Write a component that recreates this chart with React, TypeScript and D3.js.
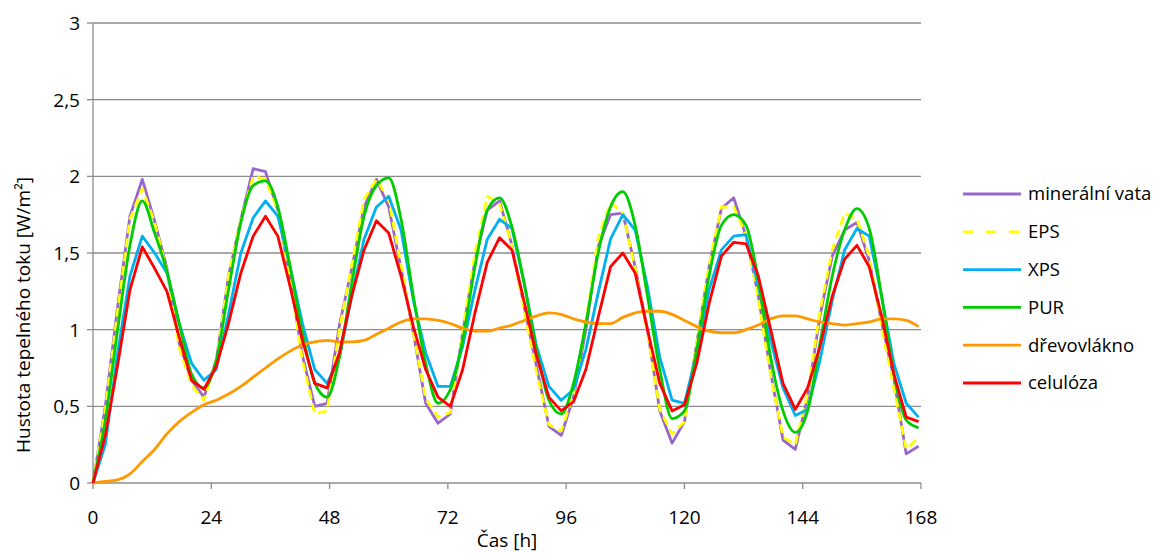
import React from "react";
import * as d3 from "d3";

const hours = [0, 2.5, 5, 7.5, 10, 12.5, 15, 17.5, 20, 22.5, 25, 27.5, 30, 32.5, 35, 37.5, 40, 42.5, 45, 47.5, 50, 52.5, 55, 57.5, 60, 62.5, 65, 67.5, 70, 72.5, 75, 77.5, 80, 82.5, 85, 87.5, 90, 92.5, 95, 97.5, 100, 102.5, 105, 107.5, 110, 112.5, 115, 117.5, 120, 122.5, 125, 127.5, 130, 132.5, 135, 137.5, 140, 142.5, 145, 147.5, 150, 152.5, 155, 157.5, 160, 162.5, 165, 167.5];

const mineralniVata = [0, 0.50, 1.15, 1.74, 1.98, 1.71, 1.40, 0.91, 0.67, 0.56, 0.80, 1.35, 1.72, 2.05, 2.03, 1.78, 1.33, 0.83, 0.50, 0.52, 1.03, 1.40, 1.80, 1.98, 1.80, 1.40, 0.98, 0.52, 0.39, 0.45, 0.98, 1.45, 1.78, 1.84, 1.55, 1.15, 0.76, 0.37, 0.31, 0.56, 1.00, 1.54, 1.75, 1.76, 1.41, 1.00, 0.47, 0.26, 0.40, 0.91, 1.41, 1.79, 1.86, 1.61, 1.22, 0.72, 0.28, 0.22, 0.56, 1.09, 1.48, 1.65, 1.70, 1.45, 1.05, 0.68, 0.19, 0.24];
const eps = [0, 0.48, 1.12, 1.72, 1.92, 1.70, 1.38, 0.88, 0.64, 0.54, 0.80, 1.35, 1.72, 2.00, 1.98, 1.78, 1.33, 0.80, 0.45, 0.47, 1.00, 1.42, 1.85, 1.98, 1.85, 1.42, 0.98, 0.55, 0.43, 0.46, 0.98, 1.50, 1.87, 1.82, 1.55, 1.12, 0.72, 0.38, 0.34, 0.58, 1.05, 1.60, 1.83, 1.76, 1.40, 0.98, 0.48, 0.32, 0.40, 0.92, 1.42, 1.80, 1.80, 1.62, 1.20, 0.70, 0.30, 0.25, 0.58, 1.12, 1.52, 1.76, 1.72, 1.48, 1.02, 0.62, 0.22, 0.30];
const xps = [0, 0.25, 0.85, 1.35, 1.61, 1.50, 1.37, 1.04, 0.78, 0.67, 0.74, 1.10, 1.50, 1.73, 1.84, 1.74, 1.41, 1.04, 0.74, 0.65, 0.82, 1.22, 1.59, 1.80, 1.87, 1.65, 1.19, 0.85, 0.63, 0.63, 0.89, 1.26, 1.59, 1.72, 1.66, 1.30, 0.89, 0.63, 0.54, 0.61, 0.87, 1.24, 1.59, 1.75, 1.65, 1.28, 0.82, 0.54, 0.52, 0.85, 1.26, 1.52, 1.61, 1.62, 1.28, 0.93, 0.62, 0.44, 0.48, 0.80, 1.19, 1.52, 1.66, 1.61, 1.22, 0.78, 0.52, 0.43];
const pur = [0, 0.41, 1.00, 1.55, 1.84, 1.63, 1.38, 1.04, 0.71, 0.62, 0.80, 1.26, 1.70, 1.94, 1.97, 1.80, 1.41, 0.98, 0.65, 0.56, 0.82, 1.30, 1.74, 1.94, 1.99, 1.72, 1.22, 0.78, 0.52, 0.61, 0.93, 1.41, 1.78, 1.86, 1.67, 1.30, 0.87, 0.54, 0.45, 0.65, 1.04, 1.50, 1.80, 1.90, 1.68, 1.22, 0.74, 0.42, 0.47, 0.87, 1.35, 1.68, 1.75, 1.68, 1.32, 0.82, 0.47, 0.33, 0.47, 0.91, 1.35, 1.65, 1.79, 1.66, 1.22, 0.71, 0.41, 0.36];
const drevovlakno = [0, 0.01, 0.02, 0.06, 0.14, 0.22, 0.32, 0.40, 0.46, 0.51, 0.54, 0.58, 0.63, 0.69, 0.75, 0.81, 0.86, 0.90, 0.92, 0.93, 0.92, 0.92, 0.93, 0.97, 1.01, 1.05, 1.07, 1.07, 1.06, 1.04, 1.01, 0.99, 0.99, 1.01, 1.03, 1.06, 1.09, 1.11, 1.10, 1.07, 1.05, 1.04, 1.04, 1.08, 1.11, 1.12, 1.12, 1.10, 1.06, 1.02, 0.99, 0.98, 0.98, 1.00, 1.03, 1.07, 1.09, 1.09, 1.07, 1.05, 1.04, 1.03, 1.04, 1.05, 1.07, 1.07, 1.06, 1.02];
const celuloza = [0, 0.31, 0.77, 1.26, 1.54, 1.40, 1.25, 0.95, 0.67, 0.61, 0.76, 1.04, 1.37, 1.61, 1.74, 1.61, 1.28, 0.93, 0.65, 0.62, 0.85, 1.22, 1.52, 1.71, 1.63, 1.35, 1.02, 0.74, 0.56, 0.50, 0.74, 1.11, 1.44, 1.60, 1.52, 1.18, 0.83, 0.56, 0.47, 0.53, 0.74, 1.08, 1.41, 1.50, 1.37, 1.00, 0.65, 0.47, 0.51, 0.78, 1.17, 1.48, 1.57, 1.56, 1.35, 1.00, 0.65, 0.48, 0.62, 0.89, 1.22, 1.46, 1.55, 1.41, 1.09, 0.71, 0.43, 0.40];

const seriesNames = ["minerální vata", "EPS", "XPS", "PUR", "dřevovlákno", "celulóza"];
const seriesValues = [mineralniVata, eps, xps, pur, drevovlakno, celuloza];
const seriesColors = ["#9966cc", "#ffff00", "#00b0f0", "#00cc00", "#ff9900", "#ff0000"];
const seriesDash = [null, "9,5", null, null, null, null];
const seriesSmooth = [false, false, false, true, true, false];

const xTicks = [0, 24, 48, 72, 96, 120, 144, 168];
const yTicks = [0, 0.5, 1, 1.5, 2, 2.5, 3];
const yTickLabels = ["0", "0,5", "1", "1,5", "2", "2,5", "3"];

const FONT = "'Open Sans', 'Noto Sans', sans-serif";

export default function App() {
  const x = d3.scaleLinear().domain([0, 168]).range([93, 921]);
  const y = d3.scaleLinear().domain([0, 3]).range([483, 23]);

  return (
    <svg
      width={1155}
      height={554}
      style={{ position: "absolute", left: 0, top: 0, background: "#fff" }}
      fontFamily={FONT}
    >
      <rect x={0} y={0} width={1155} height={554} fill="#fff" />
      {yTicks.filter((t) => t > 0).map((t) => (
        <line key={"g" + t} x1={x(0)} x2={x(168)} y1={y(t)} y2={y(t)} stroke="#8c8c8c" strokeWidth={1.3} />
      ))}
      <line x1={x(0)} x2={x(0)} y1={y(0)} y2={y(3)} stroke="#8c8c8c" strokeWidth={1.3} />
      <line x1={x(0)} x2={x(168)} y1={y(0)} y2={y(0)} stroke="#8c8c8c" strokeWidth={1.3} />
      {yTicks.map((t, i) => (
        <g key={"yt" + t}>
          <line x1={x(0) - 6} x2={x(0)} y1={y(t)} y2={y(t)} stroke="#8c8c8c" strokeWidth={1.3} />
          <text x={80} y={y(t)} dy="0.36em" textAnchor="end" fontSize={19} fill="#000">
            {yTickLabels[i]}
          </text>
        </g>
      ))}
      {xTicks.map((t) => (
        <g key={"xt" + t}>
          <line x1={x(t)} x2={x(t)} y1={y(0)} y2={y(0) + 6} stroke="#8c8c8c" strokeWidth={1.3} />
          <text x={x(t)} y={524} textAnchor="middle" fontSize={19} fill="#000">
            {t}
          </text>
        </g>
      ))}
      <text x={507} y={547} textAnchor="middle" fontSize={19} fill="#000">
        Čas [h]
      </text>
      <text
        transform="translate(23,315) rotate(-90)"
        textAnchor="middle"
        dy="0.35em"
        fontSize={19}
        fill="#000"
      >
        Hustota tepelného toku [W/m²]
      </text>
      {seriesValues.map((vals, si) => {
        const line = d3
          .line<number>()
          .x((_, i) => x(hours[i]))
          .y((d) => y(d))
          .curve(seriesSmooth[si] ? d3.curveMonotoneX : d3.curveLinear);
        return (
          <path
            key={"s" + si}
            d={line(vals) || ""}
            fill="none"
            stroke={seriesColors[si]}
            strokeWidth={2.8}
            strokeDasharray={seriesDash[si] || undefined}
            strokeLinejoin="round"
          />
        );
      })}
      {seriesNames.map((name, i) => {
        const ly = 194 + i * 37.8;
        return (
          <g key={"l" + i}>
            <line
              x1={963}
              x2={1021}
              y1={ly}
              y2={ly}
              stroke={seriesColors[i]}
              strokeWidth={2.8}
              strokeDasharray={seriesDash[i] ? "10,13" : undefined}
            />
            <text x={1028} y={ly} dy="0.35em" fontSize={18.5} fill="#000">
              {name}
            </text>
          </g>
        );
      })}
    </svg>
  );
}
